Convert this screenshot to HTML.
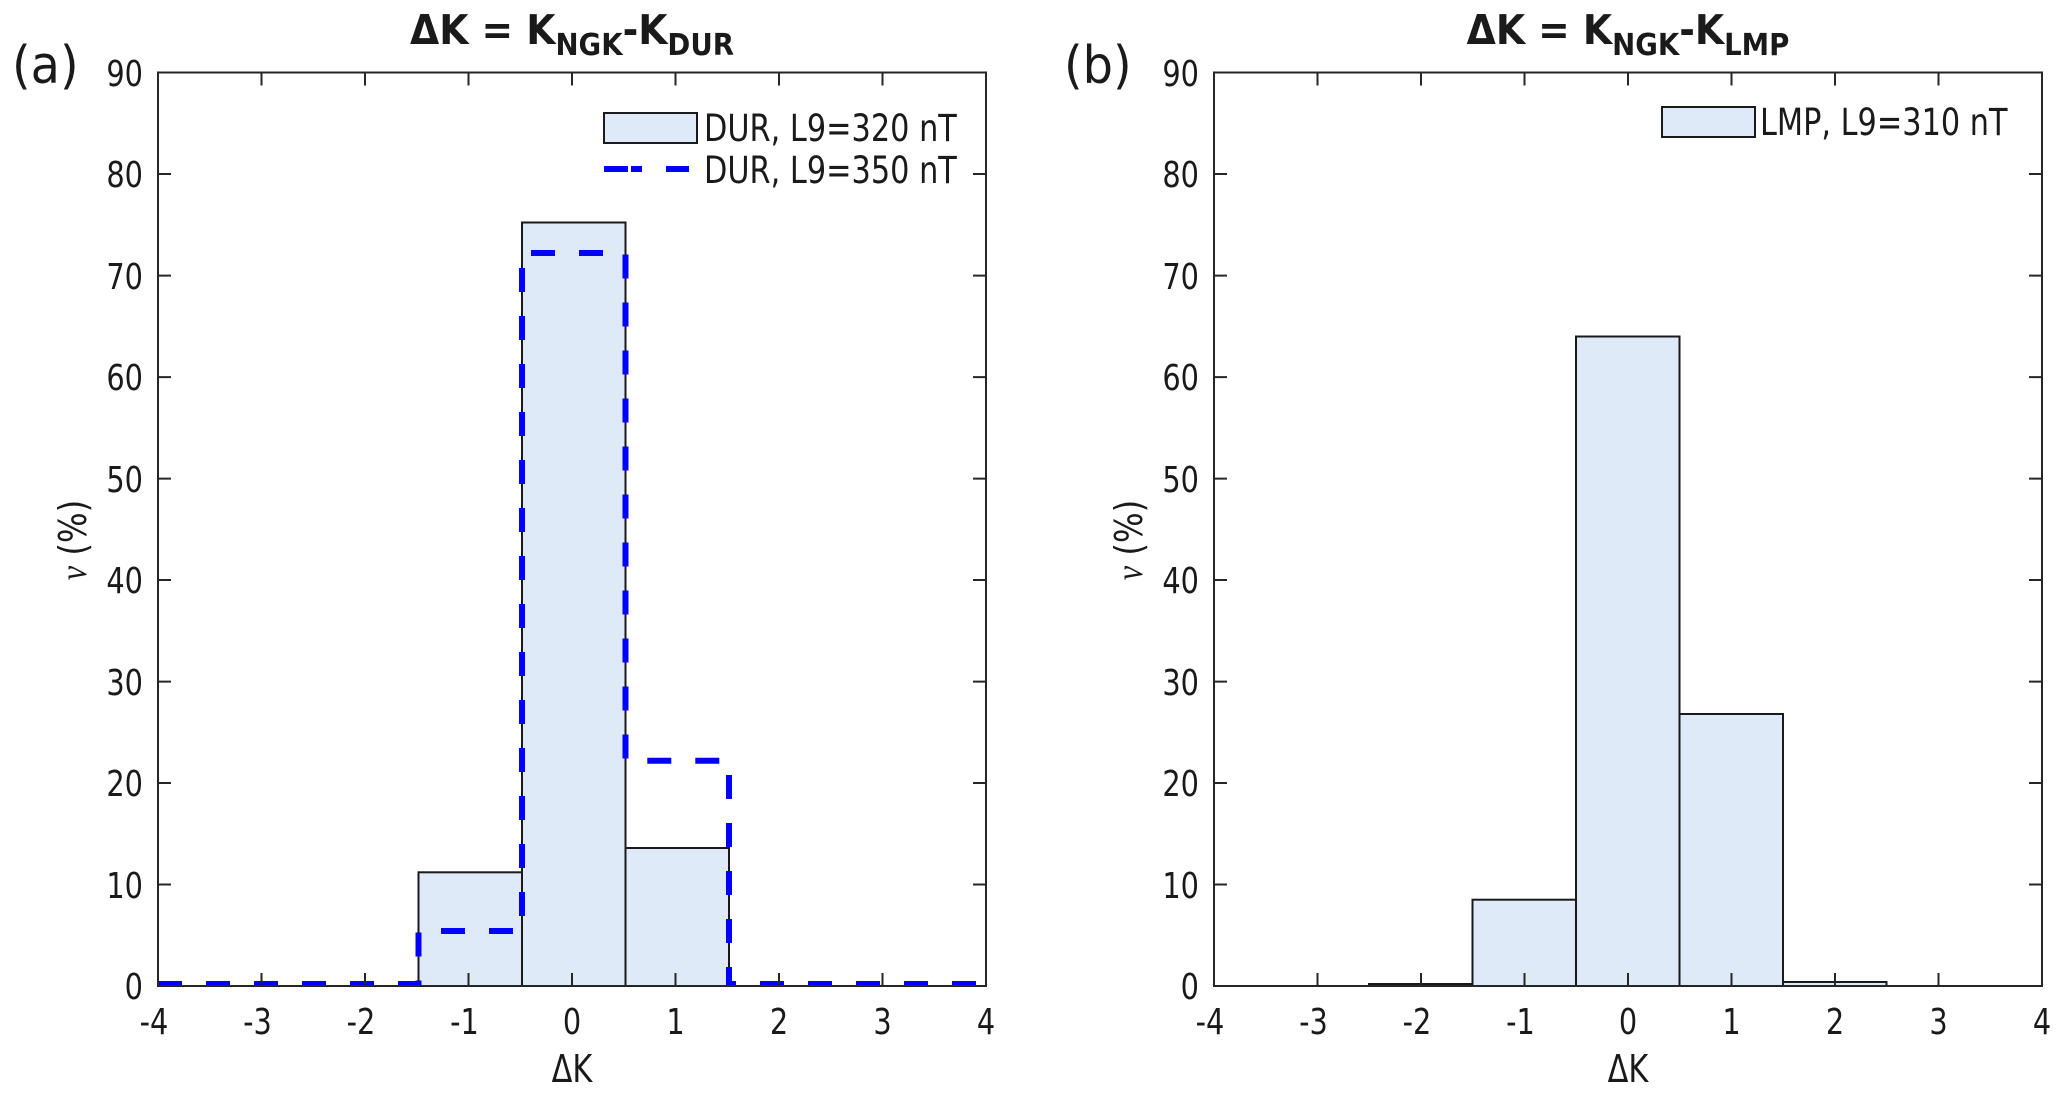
<!DOCTYPE html>
<html><head><meta charset="utf-8"><style>
html,body{margin:0;padding:0;background:#fff;}
svg{display:block;}
text{font-family:"DejaVu Sans","Liberation Sans",sans-serif;fill:#1a1a1a;}
.tk{font-size:36px;}
</style></head><body>
<svg width="2067" height="1096" viewBox="0 0 2067 1096" xmlns="http://www.w3.org/2000/svg">
<rect width="2067" height="1096" fill="#fff"/>

<!-- ===== Panel A ===== -->
<g id="A">
  <g fill="#dfeaf8" stroke="#1a1a1a" stroke-width="2">
    <rect x="418.5" y="872.3" width="103.5" height="113.7"/>
    <rect x="522" y="222.5" width="103.5" height="763.5"/>
    <rect x="625.5" y="848" width="103.5" height="138"/>
  </g>
  <polyline fill="none" stroke="#0000ff" stroke-width="6" stroke-dasharray="24,24"
    points="158,984 418.5,984 418.5,931 522,931 522,253 625.5,253 625.5,760.7 729,760.7 729,984 986,984"/>
  <rect x="158" y="72.5" width="828" height="913.5" fill="none" stroke="#262626" stroke-width="2"/>
  <g stroke="#262626" stroke-width="2">
    <path d="M261.5 986v-13M365 986v-13M468.5 986v-13M572 986v-13M675.5 986v-13M779 986v-13M882.5 986v-13"/>
    <path d="M261.5 72.5v13M365 72.5v13M468.5 72.5v13M572 72.5v13M675.5 72.5v13M779 72.5v13M882.5 72.5v13"/>
    <path d="M158 884.5h13M158 783h13M158 681.6h13M158 580h13M158 478.6h13M158 377.1h13M158 275.6h13M158 174h13"/>
    <path d="M986 884.5h-13M986 783h-13M986 681.6h-13M986 580h-13M986 478.6h-13M986 377.1h-13M986 275.6h-13M986 174h-13"/>
  </g>
  <g class="tk" text-anchor="end">
    <text transform="translate(143,999) scale(0.8,1)">0</text>
    <text transform="translate(143,898) scale(0.8,1)">10</text>
    <text transform="translate(143,796) scale(0.8,1)">20</text>
    <text transform="translate(143,695) scale(0.8,1)">30</text>
    <text transform="translate(143,593) scale(0.8,1)">40</text>
    <text transform="translate(143,492) scale(0.8,1)">50</text>
    <text transform="translate(143,390) scale(0.8,1)">60</text>
    <text transform="translate(143,289) scale(0.8,1)">70</text>
    <text transform="translate(143,187) scale(0.8,1)">80</text>
    <text transform="translate(143,86) scale(0.8,1)">90</text>
  </g>
  <g class="tk" text-anchor="middle">
    <text transform="translate(154,1034) scale(0.8,1)">-4</text>
    <text transform="translate(257.5,1034) scale(0.8,1)">-3</text>
    <text transform="translate(361,1034) scale(0.8,1)">-2</text>
    <text transform="translate(464.5,1034) scale(0.8,1)">-1</text>
    <text transform="translate(572,1034) scale(0.8,1)">0</text>
    <text transform="translate(675.5,1034) scale(0.8,1)">1</text>
    <text transform="translate(779,1034) scale(0.8,1)">2</text>
    <text transform="translate(882.5,1034) scale(0.8,1)">3</text>
    <text transform="translate(986,1034) scale(0.8,1)">4</text>
  </g>
  <text transform="translate(572,1082) scale(0.8,1)" font-size="38" text-anchor="middle">ΔK</text>
  <text transform="translate(86,540) rotate(-90) scale(0.85,1)" font-size="38" text-anchor="middle"><tspan font-family="Liberation Serif,serif" font-style="italic">ν</tspan> (%)</text>
  <text transform="translate(572,44) scale(0.92,1)" font-size="41" font-weight="bold" text-anchor="middle">ΔK = K<tspan font-size="30" dy="11">NGK</tspan><tspan dy="-11">-K</tspan><tspan font-size="30" dy="11">DUR</tspan></text>
  <text transform="translate(12,83) scale(0.92,1)" font-size="52">(a)</text>
  <rect x="604" y="113" width="93" height="30" fill="#dfeaf8" stroke="#1a1a1a" stroke-width="2"/>
  <text transform="translate(704,141) scale(0.82,1)" font-size="37">DUR, L9=320 nT</text>
  <path d="M604 169h24M631 169h11M666 169h23" stroke="#0000ff" stroke-width="6"/>
  <text transform="translate(704,183) scale(0.82,1)" font-size="37">DUR, L9=350 nT</text>
</g>

<!-- ===== Panel B ===== -->
<g id="B">
  <g fill="#dfeaf8" stroke="#1a1a1a" stroke-width="2">
    <rect x="1369" y="984" width="103.5" height="2"/>
    <rect x="1472.5" y="899.7" width="103.5" height="86.3"/>
    <rect x="1576" y="336.5" width="103.5" height="649.5"/>
    <rect x="1679.5" y="714" width="103.5" height="272"/>
    <rect x="1783" y="982" width="103.5" height="4"/>
  </g>
  <rect x="1214" y="72.5" width="828" height="913.5" fill="none" stroke="#262626" stroke-width="2"/>
  <g stroke="#262626" stroke-width="2">
    <path d="M1317.5 986v-13M1421 986v-13M1524.5 986v-13M1628 986v-13M1731.5 986v-13M1835 986v-13M1938.5 986v-13"/>
    <path d="M1317.5 72.5v13M1421 72.5v13M1524.5 72.5v13M1628 72.5v13M1731.5 72.5v13M1835 72.5v13M1938.5 72.5v13"/>
    <path d="M1214 884.5h13M1214 783h13M1214 681.6h13M1214 580h13M1214 478.6h13M1214 377.1h13M1214 275.6h13M1214 174h13"/>
    <path d="M2042 884.5h-13M2042 783h-13M2042 681.6h-13M2042 580h-13M2042 478.6h-13M2042 377.1h-13M2042 275.6h-13M2042 174h-13"/>
  </g>
  <g class="tk" text-anchor="end">
    <text transform="translate(1199,999) scale(0.8,1)">0</text>
    <text transform="translate(1199,898) scale(0.8,1)">10</text>
    <text transform="translate(1199,796) scale(0.8,1)">20</text>
    <text transform="translate(1199,695) scale(0.8,1)">30</text>
    <text transform="translate(1199,593) scale(0.8,1)">40</text>
    <text transform="translate(1199,492) scale(0.8,1)">50</text>
    <text transform="translate(1199,390) scale(0.8,1)">60</text>
    <text transform="translate(1199,289) scale(0.8,1)">70</text>
    <text transform="translate(1199,187) scale(0.8,1)">80</text>
    <text transform="translate(1199,86) scale(0.8,1)">90</text>
  </g>
  <g class="tk" text-anchor="middle">
    <text transform="translate(1210,1034) scale(0.8,1)">-4</text>
    <text transform="translate(1313.5,1034) scale(0.8,1)">-3</text>
    <text transform="translate(1417,1034) scale(0.8,1)">-2</text>
    <text transform="translate(1520.5,1034) scale(0.8,1)">-1</text>
    <text transform="translate(1628,1034) scale(0.8,1)">0</text>
    <text transform="translate(1731.5,1034) scale(0.8,1)">1</text>
    <text transform="translate(1835,1034) scale(0.8,1)">2</text>
    <text transform="translate(1938.5,1034) scale(0.8,1)">3</text>
    <text transform="translate(2042,1034) scale(0.8,1)">4</text>
  </g>
  <text transform="translate(1628,1082) scale(0.8,1)" font-size="38" text-anchor="middle">ΔK</text>
  <text transform="translate(1142,540) rotate(-90) scale(0.85,1)" font-size="38" text-anchor="middle"><tspan font-family="Liberation Serif,serif" font-style="italic">ν</tspan> (%)</text>
  <text transform="translate(1628,44) scale(0.92,1)" font-size="41" font-weight="bold" text-anchor="middle">ΔK = K<tspan font-size="30" dy="11">NGK</tspan><tspan dy="-11">-K</tspan><tspan font-size="30" dy="11">LMP</tspan></text>
  <text transform="translate(1064,83) scale(0.92,1)" font-size="52">(b)</text>
  <rect x="1662" y="107" width="93" height="30" fill="#dfeaf8" stroke="#1a1a1a" stroke-width="2"/>
  <text transform="translate(1760,135) scale(0.82,1)" font-size="37">LMP, L9=310 nT</text>
</g>
</svg>
</body></html>
